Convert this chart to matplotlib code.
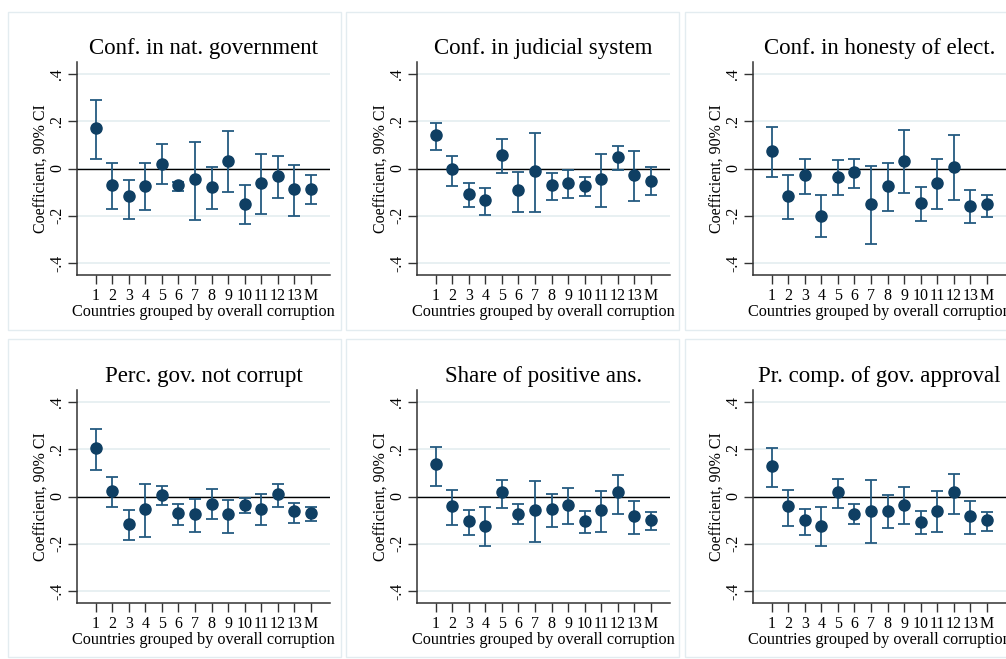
import matplotlib
matplotlib.use("Agg")
import matplotlib.pyplot as plt
from matplotlib.patches import Rectangle

# x categories: country groups by overall corruption, M = mean
groups = ["1", "2", "3", "4", "5", "6", "7", "8", "9", "10", "11", "12", "13", "M"]
y_ticks = [-0.4, -0.2, 0.0, 0.2, 0.4]
y_tick_labels = ["-.4", "-.2", "0", ".2", ".4"]

titles = [
    "Conf. in nat. government",
    "Conf. in judicial system",
    "Conf. in honesty of elect.",
    "Perc. gov. not corrupt",
    "Share of positive ans.",
    "Pr. comp. of gov. approval",
]

# point estimates and 90% CI bounds, one set per panel
gov_coef = [0.173, -0.070, -0.116, -0.074, 0.021, -0.068, -0.045, -0.080, 0.032, -0.150, -0.063, -0.032, -0.086, -0.086]
gov_hi = [0.288, 0.025, -0.048, 0.025, 0.102, -0.055, 0.112, 0.007, 0.159, -0.069, 0.062, 0.052, 0.014, -0.028]
gov_lo = [0.042, -0.170, -0.213, -0.177, -0.067, -0.095, -0.218, -0.170, -0.098, -0.236, -0.191, -0.124, -0.199, -0.150]

jud_coef = [0.143, -0.004, -0.109, -0.132, 0.055, -0.091, -0.010, -0.069, -0.062, -0.076, -0.045, 0.049, -0.028, -0.051]
jud_hi = [0.194, 0.052, -0.063, -0.081, 0.124, -0.015, 0.149, -0.017, -0.008, -0.036, 0.063, 0.097, 0.073, 0.006]
jud_lo = [0.077, -0.073, -0.161, -0.196, -0.017, -0.183, -0.183, -0.131, -0.125, -0.116, -0.161, -0.007, -0.138, -0.112]

elect_coef = [0.073, -0.115, -0.028, -0.199, -0.034, -0.014, -0.152, -0.074, 0.031, -0.145, -0.063, 0.008, -0.157, -0.150]
elect_hi = [0.174, -0.028, 0.042, -0.111, 0.035, 0.041, 0.011, 0.025, 0.163, -0.077, 0.041, 0.143, -0.090, -0.111]
elect_lo = [-0.034, -0.213, -0.107, -0.291, -0.112, -0.081, -0.321, -0.181, -0.105, -0.220, -0.173, -0.131, -0.229, -0.205]

corr_coef = [0.205, 0.022, -0.116, -0.053, 0.007, -0.070, -0.076, -0.031, -0.076, -0.035, -0.053, 0.011, -0.063, -0.070]
corr_hi = [0.284, 0.084, -0.056, 0.052, 0.044, -0.031, -0.010, 0.031, -0.013, -0.007, 0.011, 0.053, -0.028, -0.044]
corr_lo = [0.112, -0.044, -0.185, -0.170, -0.036, -0.122, -0.150, -0.094, -0.153, -0.069, -0.122, -0.044, -0.111, -0.104]

share_coef = [0.136, -0.041, -0.105, -0.124, 0.018, -0.072, -0.058, -0.053, -0.036, -0.105, -0.058, 0.018, -0.083, -0.100]
share_hi = [0.209, 0.028, -0.055, -0.045, 0.070, -0.032, 0.066, 0.010, 0.035, -0.060, 0.024, 0.091, -0.020, -0.066]
share_lo = [0.045, -0.121, -0.161, -0.211, -0.048, -0.115, -0.194, -0.129, -0.116, -0.154, -0.149, -0.072, -0.157, -0.143]

appr_coef = [0.129, -0.041, -0.101, -0.126, 0.017, -0.072, -0.060, -0.060, -0.038, -0.107, -0.060, 0.017, -0.084, -0.100]
appr_hi = [0.206, 0.028, -0.053, -0.045, 0.073, -0.032, 0.069, 0.008, 0.041, -0.062, 0.024, 0.093, -0.021, -0.067]
appr_lo = [0.042, -0.124, -0.161, -0.211, -0.048, -0.115, -0.198, -0.131, -0.115, -0.157, -0.150, -0.073, -0.157, -0.146]

panels = [
    (gov_coef, gov_lo, gov_hi),
    (jud_coef, jud_lo, jud_hi),
    (elect_coef, elect_lo, elect_hi),
    (corr_coef, corr_lo, corr_hi),
    (share_coef, share_lo, share_hi),
    (appr_coef, appr_lo, appr_hi),
]

W, H = 1006, 659
plt.rcParams["font.family"] = ["Liberation Serif", "DejaVu Serif"]

fig = plt.figure(figsize=(W / 100, H / 100), dpi=100)
fig.patch.set_facecolor("white")

navy = "#1a476f"
grid_col = "#e4edf0"

# pixel layout (left, top) of each axes
col_left = [77, 417, 753]
row_top = [62, 390]
ax_w, ax_h = 253, 213

# faint panel outlines
box_left = [8, 346, 685]
box_top = [12, 339]
for bt in box_top:
    for bl in box_left:
        fig.patches.append(Rectangle((bl / W, 1 - (bt + 318) / H), 333 / W, 318 / H,
                                     transform=fig.transFigure, fill=False,
                                     edgecolor="#e3ecf0", linewidth=1.0))

x = list(range(1, len(groups) + 1))
for i, (coef, lo, hi) in enumerate(panels):
    r, c = divmod(i, 3)
    left = col_left[c] / W
    bottom = 1 - (row_top[r] + ax_h) / H
    ax = fig.add_axes([left, bottom, ax_w / W, ax_h / H])

    err = [[m - l for m, l in zip(coef, lo)], [h - m for m, h in zip(coef, hi)]]
    ax.axhline(0, color="black", linewidth=1.0, zorder=2)
    ax.errorbar(x, coef, yerr=err, fmt="o", color=navy, ecolor="#245a80",
                markersize=8, markerfacecolor="#0f3f63", markeredgecolor="#0f3f63",
                elinewidth=1.3, capsize=4.5, capthick=1.3, zorder=3)

    ax.set_xlim(-0.12, 15.15)
    ax.set_ylim(-0.45, 0.45)
    ax.set_yticks(y_ticks)
    ax.set_yticklabels(y_tick_labels, rotation=90, va="center", fontsize=11.5)
    ax.set_xticks(x)
    ax.set_xticklabels(groups, fontsize=11.5)
    ax.grid(axis="y", color=grid_col, linewidth=1.2)
    ax.set_axisbelow(True)
    for s in ["top", "right"]:
        ax.spines[s].set_visible(False)
    for s in ["left", "bottom"]:
        ax.spines[s].set_color("#333333")
        ax.spines[s].set_linewidth(1.1)
    ax.tick_params(axis="x", length=6.5, width=1.0, color="#333333", pad=3)
    ax.tick_params(axis="y", length=6.5, width=1.0, color="#333333", pad=2)

    ax.set_title(titles[i], fontsize=16.5, pad=6)
    ax.set_ylabel("Coefficient, 90% CI", fontsize=11.5, labelpad=0)
    ax.set_xlabel("Countries grouped by overall corruption", fontsize=11.7, labelpad=0)

fig.savefig("out.png", dpi=100, facecolor="white")
